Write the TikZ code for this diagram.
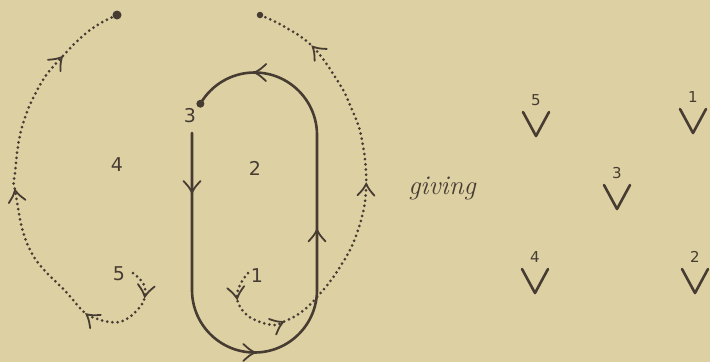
\documentclass[tikz,border=0pt]{standalone}
\usepackage{fontspec}
\newfontfamily\digitfont{DejaVu Sans}
\usetikzlibrary{decorations.markings}
\definecolor{paper}{RGB}{221,208,163}
\definecolor{ink}{RGB}{70,60,50}
\newcommand\Ybarb{\draw[solid,ink,line width=1.8pt,line cap=round] (-11pt,8.5pt) .. controls (-5pt,3pt) .. (0.5pt,0pt) .. controls (-5pt,-3pt) .. (-11pt,-8.5pt);}
\tikzset{
  solidline/.style={ink,line width=2.6pt,line cap=round},
  dotline/.style={ink,line width=3pt,line cap=round,dash pattern=on 0pt off 5.2pt},
  lab/.style={ink,font=\digitfont\fontsize{19}{19}\selectfont,inner sep=0pt},
  num/.style={ink,font=\digitfont\fontsize{15}{15}\selectfont,inner sep=0pt},
  vee/.style={ink,line width=2.6pt,line cap=round,line join=round},
  enddot/.style={ink,fill=ink,circle,inner sep=0pt,minimum size=#1},
}
\begin{document}
\begin{tikzpicture}[x=1pt,y=-1pt]
\fill[paper] (0,0) rectangle (710,362);
\useasboundingbox (0,0) rectangle (710,362);

% solid loop
\draw[solidline,postaction={decorate},decoration={markings,
   mark=at position 59pt with {\Ybarb},
   mark=at position 255pt with {\Ybarb},
   mark=at position 413pt with {\Ybarb},
   mark=at position 606pt with {\Ybarb}}]
  (192,133) -- (192,290) arc[start angle=180,end angle=360,radius=62.5pt]
  -- (317,135) arc[start angle=0,end angle=150,radius=62.5pt] coordinate (p3);
\node[enddot=8pt] (d3) at (p3) {};

% left dotted path
\draw[dotline,postaction={decorate},decoration={markings,
   mark=at position 0.06 with {\Ybarb},
   mark=at position 0.215 with {\Ybarb},
   mark=at position 0.534 with {\Ybarb},
   mark=at position 0.848 with {\Ybarb}}]
  plot[smooth,tension=0.7] coordinates {(133,273) (143,283) (145,295) (140,307) (125,320) (110,322) (95,318) (85,313) (67,293) (30,250) (15,190) (15,173) (22,127) (40,85) (62,57) (90,30) (117,15)};
\node[enddot=9pt] (dl) at (117,15) {};

% right dotted path
\draw[dotline,postaction={decorate},decoration={markings,
   mark=at position 0.06 with {\Ybarb},
   mark=at position 0.185 with {\Ybarb},
   mark=at position 0.545 with {\Ybarb},
   mark=at position 0.867 with {\Ybarb}}]
  plot[smooth,tension=0.7] coordinates {(248,273) (240,285) (237,298) (243,311) (255,320) (273,325) (283,322) (300,313) (318,296) (340,267) (357,233) (366,190) (362,140) (350,105) (337,80) (313,47) (285,27) (260,15)};
\node[enddot=6.5pt] (dr) at (260,15) {};

% region labels
\node[lab] (l4) at (117,165) {4};
\node[lab] (l2) at (255,168) {2};
\node[lab] (l3) at (190,116) {3};
\node[lab] (l5) at (119,274) {5};
\node[lab] (l1) at (257,276) {1};

\node[ink,font=\itshape\fontsize{27}{27}\selectfont,inner sep=0pt] (giving) at (442,188) {giving};

% result symbols
\foreach \n/\x/\y in {5/536/100, 1/693/97, 3/617/173, 4/535/257, 2/695/257}{
  \node[num] (r\n) at (\x,\y) {\n};
  \draw[vee] ([shift={(-13,12)}]r\n.center) -- ([shift={(0,36)}]r\n.center) -- ([shift={(13,12)}]r\n.center);
}
\end{tikzpicture}
\end{document}
